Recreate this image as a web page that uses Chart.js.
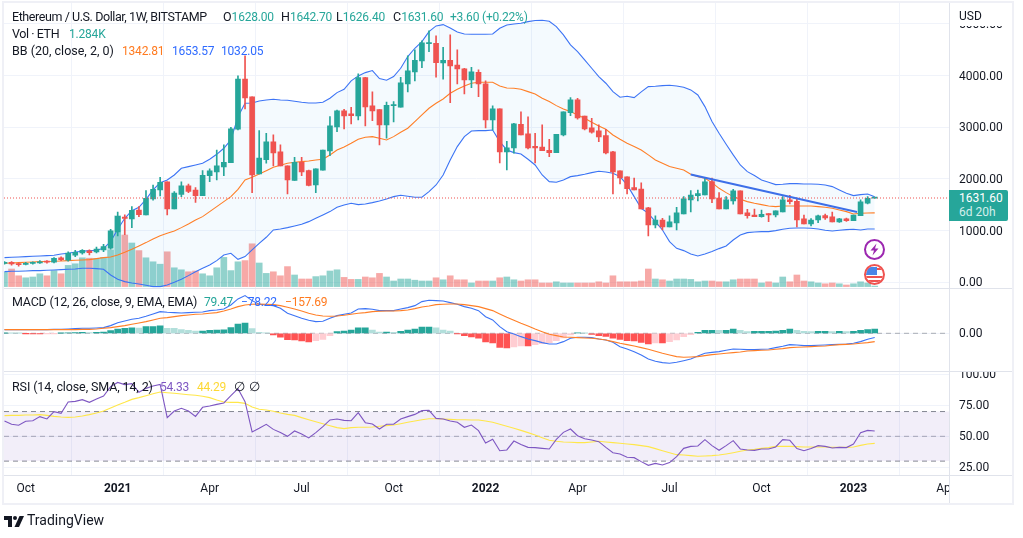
<!DOCTYPE html>
<html>
<head>
<meta charset="utf-8">
<title>ETHUSD 1W</title>
<script src="https://cdn.jsdelivr.net/npm/chart.js@4"></script>
<style>
  html, body { margin: 0; padding: 0; background: #fff; }
  #wrap { position: relative; width: 1023px; height: 538px; overflow: hidden; font-family: Roboto, sans-serif; font-size: 12.5px; color: #131722; }
  canvas { position: absolute; left: 0; top: 0; }
  .t { position: absolute; white-space: nowrap; line-height: 16px; }
  .v, .up, .or, .bl { font-size: 12px; letter-spacing: -0.2px; }
  .up { color: #26a69a; }
  .or { color: #ff7a1f; }
  .bl { color: #2f6bff; }
  .tight { letter-spacing: -0.42px; }
  #badge { position: absolute; left: 949px; top: 190px; width: 59px; height: 31px; background: #26a69a; border-radius: 0 2px 2px 0; color: #fff; font-size: 12px; }
  #badge div { position: absolute; left: 10px; line-height: 15px; }
  svg { position: absolute; overflow: visible; }
</style>
</head>
<body>
<div id="wrap">
  <canvas id="ethChart" width="1023" height="538"></canvas>

  <span class="t tight" style="left:12px;top:9px">Ethereum / U.S. Dollar, 1W, BITSTAMP</span>
  <span class="t" style="left:223px;top:9px">O<span class="up">1628.00</span></span>
  <span class="t" style="left:281px;top:9px">H<span class="up">1642.70</span></span>
  <span class="t" style="left:336px;top:9px">L<span class="up">1626.40</span></span>
  <span class="t" style="left:393px;top:9px">C<span class="up">1631.60</span></span>
  <span class="t up" style="left:450px;top:9px">+3.60 (+0.22%)</span>

  <span class="t tight" style="left:12px;top:26px">Vol · ETH</span>
  <span class="t up" style="left:69px;top:26px">1.284K</span>

  <span class="t" style="left:12px;top:43px">BB (20, close, 2, 0)</span>
  <span class="t or" style="left:122px;top:43px">1342.81</span>
  <span class="t bl" style="left:172px;top:43px">1653.57</span>
  <span class="t bl" style="left:221px;top:43px">1032.05</span>

  <span class="t" style="left:12px;top:294px;letter-spacing:-0.22px">MACD (12, 26, close, 9, EMA, EMA)</span>
  <span class="t up" style="left:204px;top:294px">79.47</span>
  <span class="t bl" style="left:241px;top:294px">−78.22</span>
  <span class="t or" style="left:285px;top:294px">−157.69</span>

  <span class="t" style="left:12px;top:379px;letter-spacing:-0.12px">RSI (14, close, SMA, 14, 2)</span>
  <span class="t v" style="left:160px;top:379px;color:#7e57c2">54.33</span>
  <span class="t v" style="left:197px;top:379px;color:#fdd835">44.29</span>
  <span class="t" style="left:234px;top:379px">∅</span>
  <span class="t" style="left:249px;top:379px">∅</span>

  <span class="t" style="left:959px;top:8px;font-size:12px">USD</span>
  <div id="badge">
    <div style="top:1px">1631.60</div>
    <div style="top:15px;color:#d4efec">6d 20h</div>
  </div>

  <!-- event markers -->
  <svg style="left:863px;top:238px" width="23" height="23" viewBox="0 0 23 23">
    <circle cx="11.5" cy="11.5" r="9.5" fill="#fff" stroke="#9c27b0" stroke-width="2"/>
    <path d="M13.5 5.5 L7.5 12.5 H11 L9.5 17.5 L15.5 10.5 H12 Z" fill="#9c27b0"/>
  </svg>
  <svg style="left:863px;top:263px" width="23" height="23" viewBox="0 0 23 23">
    <defs><clipPath id="fl"><circle cx="11.5" cy="11.5" r="8.5"/></clipPath></defs>
    <g clip-path="url(#fl)">
      <rect width="23" height="23" fill="#fff"/>
      <rect y="5" width="23" height="2" fill="#ef5350"/>
      <rect y="13" width="23" height="2" fill="#ef5350"/>
      <rect y="17" width="23" height="2" fill="#ef5350"/>
      <rect x="2" y="4" width="12" height="8" fill="#4a86e8"/>
    </g>
    <circle cx="11.5" cy="11.5" r="9.5" fill="none" stroke="#ef5350" stroke-width="2"/>
  </svg>

  <!-- footer mark -->
  <svg style="left:4px;top:516px" width="20" height="11" viewBox="0 0 20 11">
    <path d="M0 0 H8 V11 H4 V4 H0 Z" fill="#131722"/>
    <circle cx="11" cy="2" r="2" fill="#131722"/>
    <path d="M15.5 0 H20 L15 11 H10.5 Z" fill="#131722"/>
  </svg>
  <span class="t" style="left:27px;top:512px;font-size:14px">TradingView</span>
</div>

<script>
// week number 0 = first week of January 2021
const firstWeek = -16;

const opens = [
  365,385,355,345,367,375,410,390,475,430,
  525,570,607,590,625,660,975,1260,1225,1400,
  1303,1613,1787,1942,1419,1703,1865,1787,1677,2065,
  2135,2232,2316,2961,3935,3587,2097,2374,2716,2523,
  2252,1974,2323,2161,1884,2168,2542,3006,3316,3258,
  3219,3961,3413,3342,3045,3420,3387,3839,4071,4284,
  4620,4626,4245,4297,4206,4129,3916,4065,3839,3142,
  3355,2523,2600,3058,2871,2632,2619,2555,2510,2852,
  3284,3529,3219,2987,2929,2839,2523,2155,2039,1832,
  1806,1439,1110,1206,1071,1148,1323,1594,1677,1690,
  1948,1632,1419,1574,1768,1342,1303,1271,1329,1303,
  1361,1594,1568,1226,1129,1206,1290,1265,1168,1226,
  1194,1290,1529,1628
];
const closes = [
  385,355,342,367,385,395,390,465,440,565,
  580,620,574,645,690,995,1277,1235,1394,1310,
  1626,1800,1935,1419,1729,1865,1761,1677,2071,2155,
  2252,2323,2968,3935,3568,2077,2406,2716,2503,2252,
  1980,2323,2135,1877,2194,2561,3026,3316,3219,3226,
  3961,3394,3316,3045,3426,3432,3858,4090,4297,4632,
  4632,4252,4297,4187,4129,3916,4071,3839,3142,3355,
  2523,2600,3065,2852,2600,2600,2548,2510,2865,3297,
  3529,3181,2968,2903,2813,2503,2135,2019,1813,1787,
  1419,1110,1206,1071,1168,1342,1613,1690,1716,1942,
  1613,1419,1594,1768,1323,1290,1271,1316,1303,1381,
  1594,1561,1206,1129,1206,1284,1245,1168,1226,1194,
  1303,1555,1626,1631.6
];
const highs = [
  400,400,375,385,395,420,420,480,495,590,
  620,635,630,680,735,1026,1361,1305,1465,1465,
  1774,1880,2032,1942,1755,1942,1903,1832,2161,2194,
  2561,2658,3000,3994,4381,3587,2935,2884,2852,2658,
  2252,2419,2419,2174,2194,2561,3206,3335,3348,3387,
  4032,3968,3684,3342,3490,3497,3968,4381,4500,4671,
  4865,4768,4548,4787,4497,4142,4161,4110,3897,3413,
  3355,2729,3077,3297,3200,2884,3045,2768,2865,3297,
  3574,3561,3219,3174,3045,2961,2535,2155,2039,2019,
  1923,1452,1284,1239,1284,1452,1658,1774,1787,2026,
  2019,1735,1658,1800,1768,1413,1419,1400,1329,1381,
  1658,1684,1632,1303,1232,1303,1322,1361,1239,1245,
  1303,1594,1658,1642.7
];
const lows = [
  350,330,310,335,350,365,370,375,420,410,
  495,545,530,570,595,640,897,920,1058,1270,
  1303,1590,1670,1303,1419,1658,1735,1548,1677,1948,
  1980,2065,2316,2948,3355,1735,2097,2303,2252,2252,
  1710,1974,2065,1865,1735,2168,2452,2916,2968,3065,
  3142,3026,3129,2658,2787,3103,3387,3684,3897,4155,
  4465,3968,3929,3477,3839,3645,3768,3594,2987,2948,
  2310,2174,2497,2852,2581,2310,2548,2432,2510,2832,
  3226,3155,2948,2884,2723,2484,1710,1903,1710,1787,
  1419,897,1052,1013,1071,1013,1323,1361,1574,1690,
  1542,1419,1419,1510,1323,1239,1271,1258,1174,1265,
  1361,1516,1071,1129,1090,1155,1219,1168,1160,1180,
  1194,1290,1516,1626.4
];
const volumes = [
  36,44,27,22,24,32,27,40,32,53,
  57,72,71,70,73,92,177,129,109,90,
  72,62,56,87,47,42,37,39,32,27,
  47,73,40,62,65,107,59,33,37,27,
  50,29,19,19,25,27,39,42,23,18,
  18,24,22,33,24,14,19,19,16,14,
  14,22,17,27,17,17,9,14,14,14,
  22,24,17,14,17,17,9,9,12,9,
  9,9,9,9,12,9,27,12,12,12,
  14,44,19,17,14,19,19,18,12,14,
  14,12,12,17,19,19,19,9,12,9,
  24,12,29,14,12,9,7,9,7,4,
  7,12,9,1.284
];
const bbUpper = [
  477,484,490,497,503,510,516,523,548,561,
  587,600,613,619,658,787,1026,1239,1387,1452,
  1606,1787,1929,1981,2077,2206,2239,2271,2303,2381,
  2477,2594,2755,3206,3465,3471,3510,3529,3542,3529,
  3523,3503,3484,3471,3471,3484,3561,3671,3735,3897,
  3994,4058,4097,3942,3910,3981,4142,4368,4529,4658,
  4852,4961,4987,4923,4845,4806,4800,4800,4800,4806,
  4916,4981,5000,5013,5045,5065,5071,5052,4948,4787,
  4594,4465,4303,4142,3981,3852,3690,3581,3600,3574,
  3684,3787,3794,3806,3813,3800,3774,3723,3626,3400,
  3110,2884,2671,2465,2271,2142,2065,1981,1935,1890,
  1897,1910,1910,1903,1903,1897,1884,1852,1787,1723,
  1677,1697,1710,1653.57
];
const bbBasis = [
  368,374,381,387,394,400,403,406,413,419,
  426,432,439,458,477,490,529,581,639,703,
  768,839,903,948,994,1058,1129,1206,1271,1368,
  1465,1561,1658,1800,1981,2032,2097,2161,2226,2265,
  2303,2323,2335,2348,2368,2381,2465,2561,2619,2690,
  2768,2806,2819,2787,2755,2819,2903,2981,3110,3239,
  3368,3465,3548,3658,3735,3800,3852,3871,3871,3871,
  3800,3761,3755,3735,3690,3645,3561,3497,3419,3355,
  3303,3239,3174,3097,3026,2961,2852,2768,2690,2626,
  2561,2465,2368,2303,2239,2206,2174,2090,2045,2013,
  1929,1819,1735,1658,1606,1561,1529,1503,1477,1465,
  1477,1477,1477,1477,1477,1465,1452,1432,1400,1368,
  1322,1335,1340,1342.81
];
const bbLower = [
  206,213,213,219,226,226,232,239,245,252,
  258,271,271,265,252,142,58,13,-13,-32,
  -58,-84,-84,-52,0,58,129,206,271,335,
  419,529,561,445,497,626,755,871,1013,1032,
  1058,1090,1123,1174,1239,1303,1368,1452,1497,1529,
  1503,1516,1542,1574,1613,1658,1684,1665,1645,1645,
  1755,1884,2077,2368,2626,2819,2929,2935,2935,2948,
  2723,2561,2510,2484,2381,2271,2077,1948,1935,1981,
  2045,2065,2090,2123,2148,2135,2110,2045,1884,1658,
  1432,1335,1174,1013,787,658,613,548,510,548,
  594,652,703,819,916,961,974,981,981,1000,
  1026,1045,1052,1052,1045,1032,1006,994,1006,1019,
  1026,1013,1032,1032.05
];
const macdLine = [
  69,69,69,69,69,69,69,75,75,82,
  88,94,94,101,107,145,201,233,264,283,
  321,365,409,396,390,384,390,396,403,428,
  440,459,535,648,711,616,547,535,522,472,
  377,333,283,245,220,226,283,333,359,384,
  459,465,453,428,428,428,459,484,522,598,
  623,616,610,579,547,503,472,428,314,252,
  126,31,-13,-63,-107,-138,-176,-201,-201,-157,
  -94,-75,-75,-82,-107,-126,-170,-252,-296,-346,
  -409,-484,-528,-553,-566,-547,-516,-484,-428,-377,
  -359,-346,-321,-296,-302,-308,-308,-302,-296,-270,
  -245,-214,-220,-233,-233,-226,-220,-214,-208,-201,
  -189,-157,-113,-78.22
];
const macdSignal = [
  69,69,69,69,69,69,69,69,69,69,
  69,75,75,82,94,107,126,145,170,195,
  220,252,283,296,314,333,346,359,365,377,
  390,421,459,503,535,547,553,547,541,522,
  491,459,421,377,346,327,321,327,340,359,
  377,390,409,415,421,421,428,440,465,497,
  516,541,547,553,553,541,522,503,465,428,
  365,302,245,189,138,82,31,-19,-44,-69,
  -75,-82,-88,-94,-107,-126,-157,-189,-214,-239,
  -270,-302,-340,-377,-409,-440,-453,-447,-440,-421,
  -403,-390,-377,-365,-352,-333,-327,-321,-314,-302,
  -289,-270,-264,-258,-252,-245,-239,-226,-214,-208,
  -201,-189,-176,-157.69
];
const macdHist = [
  4,3,2,-2,-3,-3,-2,-1,2,6,
  12,18,14,18,22,50,80,92,104,98,
  125,128,140,95,92,72,55,44,44,56,
  62,65,110,176,195,88,19,6,-30,-75,
  -119,-125,-145,-164,-138,-113,-44,31,44,63,
  101,101,63,25,25,19,38,63,82,119,
  119,101,63,44,-6,-44,-69,-94,-164,-182,
  -264,-277,-258,-239,-239,-214,-195,-176,-138,-88,
  -31,5,4,-19,-44,-57,-94,-113,-138,-145,
  -170,-201,-182,-182,-157,-126,-63,-25,19,57,
  57,55,57,82,57,31,38,38,38,44,
  57,82,57,38,31,38,38,31,38,31,
  38,57,70,79.47
];
const rsiLine = [
  62.4,59.7,58.9,62.1,62.6,65.9,64,69.9,68.5,77.7,
  78.2,79.6,77.4,80.1,82.5,90.1,93.5,91.7,92.5,85.5,
  88.7,90.6,91.9,65.1,70.4,72.6,70.4,66.1,73.4,74.5,
  75.8,76.9,82.8,88.4,78,53.5,56.5,59.7,55.6,53,
  50,54.3,51.9,48.7,53,57.8,63.2,64,62.9,62.6,
  69.1,61,59.9,55.9,59.7,59.7,64,65.9,67.7,70.7,
  71,64.5,64,62.4,61.3,57.3,59.1,54.6,44.6,47.6,
  38.4,39,46.2,43.5,41.1,40.9,40.3,39.8,47.6,53.2,
  55.9,50.5,48.1,47,45.7,41.1,36.8,35.8,33.1,32.8,
  29.6,26.6,28.2,26.9,28.8,33.6,40.3,41.9,42.2,47.3,
  42.5,38.7,42.5,46.5,39.8,39,38.7,39.8,39.8,41.4,
  47.3,46.8,40.1,38.4,40.1,42.5,41.9,40.6,41.1,40.9,
  43.8,53,54.8,54.33
];
const rsiMa = [
  66.7,66.9,66.9,67.2,67.2,67.5,66.9,66.1,65.6,65.3,
  65.6,66.4,67.5,68.8,70.4,72.9,75.3,77.4,79.8,81.2,
  82.8,84.4,85.8,85.2,84.7,84.1,83.6,83.1,82.3,81.2,
  79.3,77.7,77.4,77.4,76.6,73.7,71.8,71.2,70.2,68.8,
  67.7,66.9,65.1,63.4,61.8,60.2,58.6,57,56.2,57,
  57.3,57.3,57.5,58.1,58.6,59.1,60.2,61.3,62.4,63.4,
  64.2,64.2,64,63.7,63.4,63.4,63.2,63.2,62.4,61.3,
  59.7,58.1,56.5,54.8,53,51.1,48.9,46.8,46,45.4,
  45.2,44.9,44.9,45.4,46,45.4,44.9,44.4,43.8,43.3,
  42.5,41.7,40.1,38.4,36.8,35.2,34.9,34.4,33.9,34.1,
  34.4,34.9,35.8,36.8,37.9,39,39.5,40.3,40.9,41.9,
  41.9,41.9,41.7,41.4,41.4,41.4,41.4,41.1,41.1,41.1,
  41.4,42.7,43.8,44.29
];

// drawn trend line: [week, price]
const trendLine = [[81, 2087], [104.5, 1362]];

const timeTicks = [-13, 0, 13, 26, 39, 52, 65, 78, 91, 104, 117];
const timeLabels = ['Oct', '2021', 'Apr', 'Jul', 'Oct', '2022', 'Apr', 'Jul', 'Oct', '2023', 'Apr'];
const priceTicks = [0, 1000, 2000, 3000, 4000, 5000];
const macdTicks = [0];
const rsiTicks = [25, 50, 75, 100];
const rsiBands = [70, 50, 30];

const GREEN = '#26a69a', RED = '#ef5350';
const X_MIN = -16.07, X_MAX = 117.5;
const weeks = closes.map((_, i) => firstWeek + i);

const pts = arr => arr.map((y, i) => ({ x: weeks[i], y }));
const flat = y => [{ x: X_MIN, y }, { x: X_MAX, y }];
const isUp = i => closes[i] >= opens[i];

function line(data, yAxisID, color, extra) {
    return Object.assign({
        type: 'line', data, yAxisID, borderColor: color, borderWidth: 1.1,
        pointRadius: 0, tension: 0, fill: false, order: 3
    }, extra);
}

const histColors = macdHist.map((h, i) => {
    const prev = i ? macdHist[i - 1] : 0;
    if (h >= 0) return h >= prev ? '#26a69a' : '#b2dfdb';
    return h <= prev ? '#ff5252' : '#ffcdd2';
});

const datasets = [
    // volume overlay
    { type: 'bar', data: pts(volumes), yAxisID: 'yVol', barThickness: 6, grouped: false, order: 20,
      backgroundColor: closes.map((_, i) => isUp(i) ? 'rgba(38,166,154,0.5)' : 'rgba(239,83,80,0.5)') },
    // bollinger bands, upper fills down to lower (next dataset)
    line(pts(bbUpper), 'y', '#3d74f5', { fill: { target: 2 }, backgroundColor: 'rgba(33,150,243,0.05)', order: 15 }),
    line(pts(bbLower), 'y', '#3d74f5', { order: 15 }),
    line(pts(bbBasis), 'y', '#ff7f27', { order: 14 }),
    // candles
    { type: 'bar', data: weeks.map((x, i) => ({ x, y: [lows[i], highs[i]] })), yAxisID: 'y', barThickness: 1, grouped: false, order: 6,
      backgroundColor: closes.map((_, i) => isUp(i) ? GREEN : RED) },
    { type: 'bar', data: weeks.map((x, i) => ({ x, y: [opens[i], closes[i]] })), yAxisID: 'y', barThickness: 5, minBarLength: 1, grouped: false, order: 5,
      backgroundColor: closes.map((_, i) => isUp(i) ? GREEN : RED) },
    // last price and trend line
    line(flat(closes[closes.length - 1]), 'y', RED, { borderWidth: 1.2, borderDash: [1, 2], order: 4 }),
    line(trendLine.map(p => ({ x: p[0], y: p[1] })), 'y', '#3d6fe8', { borderWidth: 2, order: 2 }),
    // macd pane
    { type: 'bar', data: pts(macdHist), yAxisID: 'yMacd', barThickness: 6, grouped: false, order: 9, backgroundColor: histColors },
    line(flat(0), 'yMacd', 'rgba(120,123,134,0.6)', { borderWidth: 1, borderDash: [5, 4], order: 10 }),
    line(pts(macdLine), 'yMacd', '#3d74f5', { order: 8 }),
    line(pts(macdSignal), 'yMacd', '#ff7f27', { order: 7 }),
    // rsi pane, 70 band fills down to 30 band
    line(flat(rsiBands[0]), 'yRsi', 'rgba(120,123,134,0.9)', { borderWidth: 1, borderDash: [5, 4], fill: { target: 14 }, backgroundColor: 'rgba(126,87,194,0.1)', order: 12 }),
    line(flat(rsiBands[1]), 'yRsi', 'rgba(120,123,134,0.6)', { borderWidth: 1, borderDash: [5, 4], order: 12 }),
    line(flat(rsiBands[2]), 'yRsi', 'rgba(120,123,134,0.9)', { borderWidth: 1, borderDash: [5, 4], order: 12 }),
    line(pts(rsiMa), 'yRsi', '#ffe74a', { order: 11 }),
    line(pts(rsiLine), 'yRsi', '#7e57c2', { order: 10 })
];

const GRID = '#f0f3fa';

function yAxis(stackWeight, min, max, tickList) {
    return {
        type: 'linear', position: 'right', stack: 'panes', stackWeight, min, max, offset: false,
        afterFit(s) {
            s.width = 63;
            s.paddingTop = s.paddingBottom = 0; // stop tick labels from shrinking the chart area
        },
        afterBuildTicks(s) { s.ticks = tickList.map(value => ({ value })); },
        grid: { color: GRID, drawTicks: false },
        border: { display: false },
        ticks: { color: '#131722', padding: 10, labelOffset: 1, font: { size: 12 }, callback: v => v.toFixed(2) }
    };
}

// panel frame, dividers and the bits of axis hidden behind them
const framePlugin = {
    id: 'frame',
    afterDraw(chart) {
        const { ctx, chartArea: a, scales } = chart;
        const right = a.right + 63, bottom = a.bottom + 28;
        ctx.save();
        ctx.fillStyle = '#fff';
        ctx.fillRect(a.right + 1, a.top, 62, 23);
        ctx.fillRect(a.right + 1, scales.yRsi.top - 9, 62, 9);
        ctx.fillRect(a.right + 1, a.bottom + 1, 62, 27);
        ctx.strokeStyle = '#e0e3eb';
        ctx.lineWidth = 1;
        ctx.beginPath();
        [scales.y.bottom, scales.yMacd.bottom, a.bottom].forEach(y => {
            ctx.moveTo(a.left, Math.round(y) + 0.5);
            ctx.lineTo(right, Math.round(y) + 0.5);
        });
        ctx.moveTo(a.right + 0.5, a.top);
        ctx.lineTo(a.right + 0.5, bottom);
        ctx.stroke();
        ctx.strokeStyle = '#eff0f6';
        ctx.lineWidth = 2;
        ctx.strokeRect(a.left - 1, a.top - 1, right - a.left + 2, bottom - a.top + 2);
        ctx.restore();
    }
};

Chart.defaults.font.family = 'Roboto, sans-serif';

new Chart(document.getElementById('ethChart'), {
    type: 'bar',
    data: { datasets },
    plugins: [framePlugin],
    options: {
        responsive: false,
        animation: false,
        layout: { padding: { top: 3, left: 4, right: 11, bottom: 35 } },
        plugins: { legend: { display: false }, tooltip: { enabled: false } },
        scales: {
            x: {
                type: 'linear', min: X_MIN, max: X_MAX, offset: false,
                afterFit(s) {
                    s.height = 28;
                    s.paddingLeft = s.paddingRight = 0;
                },
                afterBuildTicks(s) { s.ticks = timeTicks.map(value => ({ value })); },
                grid: { color: GRID, drawTicks: false },
                border: { display: false },
                ticks: {
                    color: '#131722', padding: 7, maxRotation: 0, autoSkip: false,
                    font: ctx => ({ size: 12, weight: timeTicks[ctx.index] % 52 === 0 ? 'bold' : 'normal' }),
                    callback: v => timeLabels[timeTicks.indexOf(v)]
                }
            },
            y: yAxis(284.5, -100.6, 5405, priceTicks),
            yMacd: yAxis(83.5, -711, 864, macdTicks),
            yRsi: yAxis(104, 18.8, 102.7, rsiTicks),
            yVol: { type: 'linear', display: false, min: -471, max: 709 }
        }
    }
});
</script>
</body>
</html>
